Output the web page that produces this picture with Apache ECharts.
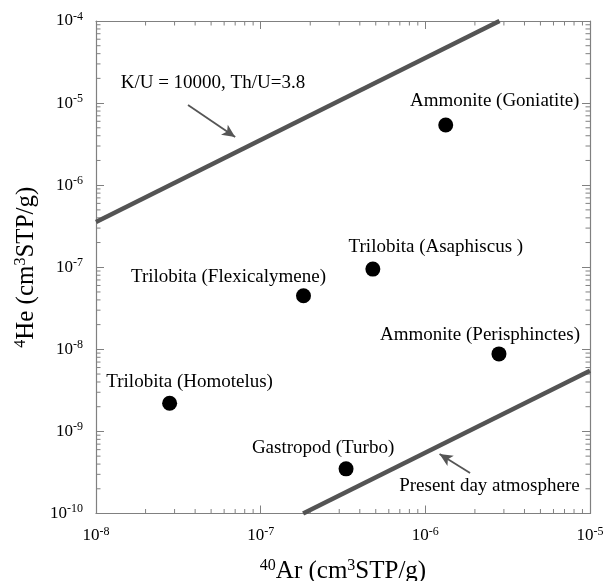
<!DOCTYPE html>
<html>
<head>
<meta charset="utf-8">
<script src="https://cdn.jsdelivr.net/npm/echarts@6/dist/echarts.min.js"></script>
<style>
html,body{margin:0;padding:0;background:#ffffff;}
#chart{width:605px;height:581px;}
</style>
</head>
<body>
<div id="chart"></div>
<script>
// ---- data ----
const sampleNames = [
  'Ammonite (Goniatite)',
  'Trilobita (Asaphiscus )',
  'Trilobita (Flexicalymene)',
  'Trilobita (Homotelus)',
  'Ammonite (Perisphinctes)',
  'Gastropod (Turbo)'
];
const ar40 = [1.33e-6, 4.8e-7, 1.82e-7, 2.8e-8, 2.8e-6, 3.3e-7];
const he4  = [5.4e-6, 9.5e-8, 4.5e-8, 2.2e-9, 8.8e-9, 3.5e-10];

// reference lines (endpoints at the plot border)
const kuLine  = [[1e-8, 3.55e-7], [2.82e-6, 1e-4]];
const atmLine = [[1.81e-7, 1e-10], [1e-5, 5.5e-9]];

// annotation arrows: [tail, head]
const kuArrow  = [[3.62e-8, 9.5e-6], [7.0e-8, 3.86e-6]];
const atmArrow = [[1.87e-6, 3.12e-10], [1.22e-6, 5.3e-10]];

// annotation texts and their anchors
const annotTexts   = ['K/U = 10000, Th/U=3.8', 'Present day atmosphere'];
const annotAnchors = [[5.13e-8, 1.76e-5], [2.45e-6, 2.19e-10]];

// axis ranges
const xMin = 1e-8, xMax = 1e-5;
const yMin = 1e-10, yMax = 1e-4;

// ---- layout / style (not data) ----
const labelOffsets = [[49, -24], [63, -22], [-75, -19], [20, -21], [-19, -19], [-23, -21]];
const FONT = "'Liberation Serif', 'DejaVu Serif', 'Times New Roman', serif";
const AXIS_COLOR = '#808080';
const LINE_COLOR = '#545454';

// minor tick positions for log axes (2..9 in each decade)
function minorTicks(lo, hi) {
  const out = [];
  for (let e = Math.round(Math.log10(lo)); e < Math.round(Math.log10(hi)); e++) {
    for (let k = 2; k <= 9; k++) out.push(k * Math.pow(10, e));
  }
  return out;
}
const tickData = [];
minorTicks(xMin, xMax).forEach(v => tickData.push([v, 1e-7, 0]));
minorTicks(yMin, yMax).forEach(v => tickData.push([1e-7, v, 1]));

function expLabel(v) {
  const e = Math.round(Math.log10(v));
  return '{b|10}{s|' + e + '}';
}
const tickRich = {
  b: {fontFamily: FONT, fontSize: 17, color: '#000'},
  s: {fontFamily: FONT, fontSize: 12, color: '#000', padding: [0, 0, 9, 0]}
};
const nameRich = {
  b: {fontFamily: FONT, fontSize: 25, color: '#000'},
  s: {fontFamily: FONT, fontSize: 16, color: '#000', padding: [0, 0, 12, 0]}
};

const chart = echarts.init(document.getElementById('chart'), null, {renderer: 'canvas'});

const baseAxis = {
  type: 'log', logBase: 10, interval: 1,
  axisLine: {show: true, onZero: false, lineStyle: {color: AXIS_COLOR, width: 1.2}},
  axisTick: {show: true, inside: true, length: 8, lineStyle: {color: AXIS_COLOR, width: 1}},
  splitLine: {show: false},
  minorTick: {show: false}
};

const option = {
  backgroundColor: '#ffffff',
  animation: false,
  grid: {left: 96, top: 21, width: 494, height: 492.5, containLabel: false, outerBoundsMode: 'none'},
  xAxis: [
    Object.assign({}, baseAxis, {
      min: xMin, max: xMax, position: 'bottom',
      axisLabel: {show: true, margin: 12, formatter: expLabel, rich: tickRich},
      name: '{s|40}{b|Ar (cm}{s|3}{b|STP/g)}',
      nameLocation: 'middle', nameGap: 44,
      nameTextStyle: {rich: nameRich}
    }),
    Object.assign({}, baseAxis, {
      min: xMin, max: xMax, position: 'top',
      axisLabel: {show: false}
    })
  ],
  yAxis: [
    Object.assign({}, baseAxis, {
      min: yMin, max: yMax, position: 'left',
      axisLabel: {show: true, margin: 13, formatter: expLabel, rich: tickRich},
      name: '{s|4}{b|He (cm}{s|3}{b|STP/g)}',
      nameLocation: 'middle', nameGap: 54,
      nameTextStyle: {rich: nameRich}
    }),
    Object.assign({}, baseAxis, {
      min: yMin, max: yMax, position: 'right',
      axisLabel: {show: false}
    })
  ],
  series: [
    {
      type: 'custom',
      name: 'minorTicks',
      silent: true,
      clip: false,
      data: tickData,
      renderItem: function (params, api) {
        const cs = params.coordSys;
        const p = api.coord([api.value(0), api.value(1)]);
        const len = 4.5;
        const st = {stroke: AXIS_COLOR, lineWidth: 1};
        if (api.value(2) === 0) {
          const x = p[0];
          const yb = cs.y + cs.height, yt = cs.y;
          return {type: 'group', children: [
            {type: 'line', shape: {x1: x, y1: yb, x2: x, y2: yb - len}, style: st},
            {type: 'line', shape: {x1: x, y1: yt, x2: x, y2: yt + len}, style: st}
          ]};
        } else {
          const y = p[1];
          const xl = cs.x, xr = cs.x + cs.width;
          return {type: 'group', children: [
            {type: 'line', shape: {x1: xl, y1: y, x2: xl + len, y2: y}, style: st},
            {type: 'line', shape: {x1: xr, y1: y, x2: xr - len, y2: y}, style: st}
          ]};
        }
      }
    },
    {
      type: 'line', name: 'K/U',
      data: kuLine, symbol: 'none', clip: true,
      lineStyle: {color: LINE_COLOR, width: 4.5}
    },
    {
      type: 'line', name: 'Atmosphere',
      data: atmLine, symbol: 'none', clip: true,
      lineStyle: {color: LINE_COLOR, width: 4.5}
    },
    {
      type: 'line', name: 'arrows',
      data: [],
      markLine: {
        silent: true,
        symbol: ['none', 'arrow'],
        symbolSize: [9, 13],
        label: {show: false},
        lineStyle: {color: '#555', width: 1.8, type: 'solid'},
        data: [
          [{coord: kuArrow[0]}, {coord: kuArrow[1]}],
          [{coord: atmArrow[0]}, {coord: atmArrow[1]}]
        ]
      }
    },
    {
      type: 'scatter', name: 'samples',
      data: ar40.map((x, i) => ({
        value: [x, he4[i]],
        label: {offset: labelOffsets[i]}
      })),
      symbol: 'circle', symbolSize: 15,
      itemStyle: {color: '#000', opacity: 1},
      label: {
        show: true, position: 'inside',
        formatter: p => sampleNames[p.dataIndex],
        fontFamily: FONT, fontSize: 19, color: '#000',
        textBorderWidth: 0
      }
    },
    {
      type: 'scatter', name: 'annotations',
      data: annotAnchors.map(a => a),
      symbolSize: 0,
      itemStyle: {color: '#000', opacity: 1},
      label: {
        show: true, position: 'inside',
        formatter: p => annotTexts[p.dataIndex],
        fontFamily: FONT, fontSize: 19, color: '#000',
        textBorderWidth: 0, opacity: 1
      }
    }
  ]
};
chart.setOption(option);
</script>
</body>
</html>
